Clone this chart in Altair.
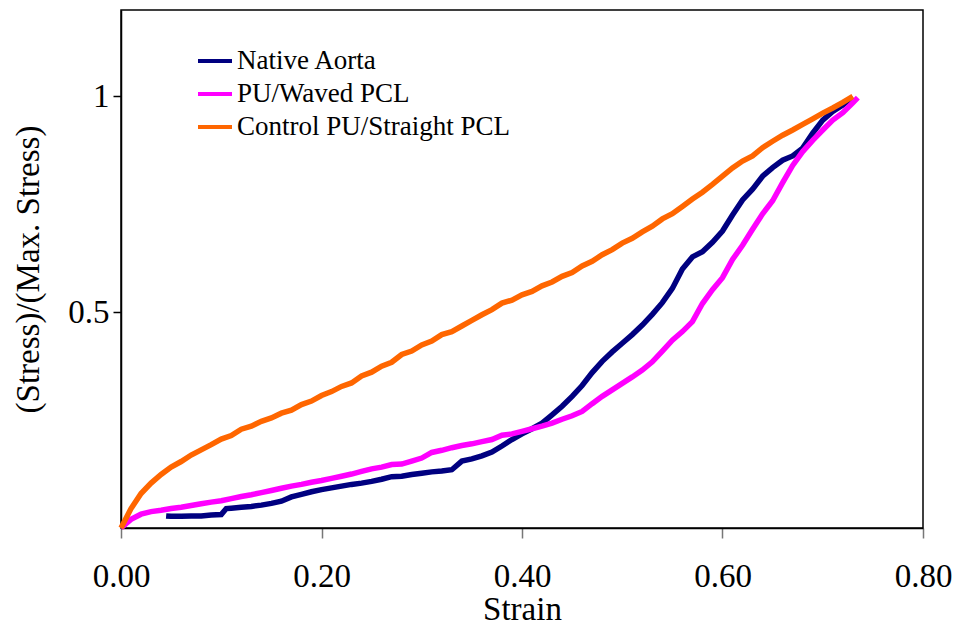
import altair as alt
import pandas as pd

# ---- data ----
control_strain = [0.00, 0.01, 0.02, 0.03, 0.04, 0.05, 0.06, 0.07, 0.08, 0.09,
                  0.10, 0.11, 0.12, 0.13, 0.14, 0.15, 0.16, 0.17, 0.18, 0.19,
                  0.20, 0.21, 0.22, 0.23, 0.24, 0.25, 0.26, 0.27, 0.28, 0.29,
                  0.30, 0.31, 0.32, 0.33, 0.34, 0.35, 0.36, 0.37, 0.38, 0.39,
                  0.40, 0.41, 0.42, 0.43, 0.44, 0.45, 0.46, 0.47, 0.48, 0.49,
                  0.50, 0.51, 0.52, 0.53, 0.54, 0.55, 0.56, 0.57, 0.58, 0.59,
                  0.60, 0.61, 0.62, 0.63, 0.64, 0.65, 0.66, 0.67, 0.68, 0.69,
                  0.70, 0.71, 0.72, 0.73]
control_stress = [0.000, 0.045, 0.080, 0.104, 0.124, 0.141, 0.154, 0.169, 0.181, 0.193,
                  0.206, 0.214, 0.229, 0.236, 0.247, 0.255, 0.266, 0.273, 0.286, 0.294,
                  0.307, 0.316, 0.328, 0.336, 0.352, 0.361, 0.375, 0.384, 0.402, 0.410,
                  0.424, 0.433, 0.448, 0.455, 0.468, 0.481, 0.494, 0.506, 0.521, 0.528,
                  0.540, 0.548, 0.561, 0.570, 0.583, 0.592, 0.607, 0.618, 0.633, 0.645,
                  0.660, 0.671, 0.686, 0.699, 0.716, 0.728, 0.745, 0.762, 0.778, 0.796,
                  0.815, 0.834, 0.850, 0.862, 0.881, 0.896, 0.910, 0.922, 0.935, 0.948,
                  0.961, 0.973, 0.986, 1.000]

waved_strain = [0.00, 0.01, 0.02, 0.03, 0.04, 0.05, 0.06, 0.07, 0.08, 0.09,
                0.10, 0.11, 0.12, 0.13, 0.14, 0.15, 0.16, 0.17, 0.18, 0.19,
                0.20, 0.21, 0.22, 0.23, 0.24, 0.25, 0.26, 0.27, 0.28, 0.29,
                0.30, 0.31, 0.32, 0.33, 0.34, 0.35, 0.36, 0.37, 0.38, 0.39,
                0.40, 0.41, 0.42, 0.43, 0.44, 0.45, 0.46, 0.47, 0.48, 0.49,
                0.50, 0.51, 0.52, 0.53, 0.54, 0.55, 0.56, 0.57, 0.58, 0.59,
                0.60, 0.61, 0.62, 0.63, 0.64, 0.65, 0.66, 0.67, 0.68, 0.69,
                0.70, 0.71, 0.72, 0.73, 0.735]
waved_stress = [0.000, 0.020, 0.032, 0.038, 0.041, 0.045, 0.048, 0.052, 0.056, 0.060,
                0.063, 0.068, 0.073, 0.077, 0.082, 0.087, 0.092, 0.097, 0.101, 0.106,
                0.110, 0.115, 0.120, 0.125, 0.131, 0.137, 0.141, 0.147, 0.148, 0.155,
                0.162, 0.175, 0.180, 0.186, 0.191, 0.195, 0.200, 0.205, 0.215, 0.218,
                0.224, 0.230, 0.236, 0.243, 0.252, 0.260, 0.270, 0.288, 0.305, 0.320,
                0.335, 0.350, 0.366, 0.385, 0.410, 0.435, 0.455, 0.478, 0.520, 0.552,
                0.580, 0.622, 0.655, 0.692, 0.728, 0.758, 0.800, 0.840, 0.872, 0.898,
                0.922, 0.945, 0.962, 0.985, 0.997]

native_strain = [0.045, 0.05, 0.06, 0.07, 0.08, 0.09, 0.10, 0.105, 0.11, 0.12,
                 0.13, 0.14, 0.15, 0.16, 0.17, 0.18, 0.19, 0.20, 0.21, 0.22,
                 0.23, 0.24, 0.25, 0.26, 0.27, 0.28, 0.29, 0.30, 0.31, 0.32,
                 0.33, 0.34, 0.35, 0.36, 0.37, 0.38, 0.39, 0.40, 0.41, 0.42,
                 0.43, 0.44, 0.45, 0.46, 0.47, 0.48, 0.49, 0.50, 0.51, 0.52,
                 0.53, 0.54, 0.55, 0.56, 0.57, 0.58, 0.59, 0.60, 0.61, 0.62,
                 0.63, 0.64, 0.65, 0.66, 0.67, 0.68, 0.69, 0.70, 0.71, 0.72,
                 0.73]
native_stress = [0.028, 0.027, 0.027, 0.028, 0.028, 0.030, 0.031, 0.045, 0.046, 0.048,
                 0.050, 0.053, 0.057, 0.062, 0.072, 0.078, 0.084, 0.089, 0.093, 0.097,
                 0.101, 0.104, 0.108, 0.113, 0.119, 0.120, 0.124, 0.127, 0.130, 0.132,
                 0.135, 0.155, 0.160, 0.167, 0.176, 0.190, 0.205, 0.218, 0.230, 0.243,
                 0.262, 0.282, 0.305, 0.330, 0.360, 0.386, 0.408, 0.428, 0.448, 0.470,
                 0.495, 0.522, 0.555, 0.600, 0.628, 0.640, 0.662, 0.688, 0.725, 0.760,
                 0.785, 0.815, 0.835, 0.852, 0.862, 0.880, 0.915, 0.945, 0.965, 0.980,
                 0.998]

series_names = ["Native Aorta", "PU/Waved PCL", "Control PU/Straight PCL"]
series_colors = ["#000080", "#FF00FF", "#FF6600"]
x_ticks = [0.0, 0.2, 0.4, 0.6, 0.8]
y_ticks = [0.5, 1.0]

rows = []
for name, xs, ys in [(series_names[0], native_strain, native_stress),
                     (series_names[1], waved_strain, waved_stress),
                     (series_names[2], control_strain, control_stress)]:
    for i, (a, b) in enumerate(zip(xs, ys)):
        rows.append({"series": name, "strain": a, "stress": b, "idx": i})
df = pd.DataFrame(rows)

FONT = "Liberation Serif"

chart = alt.Chart(df).mark_line(strokeWidth=5.5).encode(
    x=alt.X("strain:Q",
            scale=alt.Scale(domain=[0, 0.8], nice=False, zero=False),
            axis=alt.Axis(values=x_ticks, format=".2f", title="Strain",
                          tickSize=10, tickColor="#777777", labelPadding=22,
                          titlePadding=0, grid=False, labelFlush=False)),
    y=alt.Y("stress:Q",
            scale=alt.Scale(domain=[0, 1.2], nice=False),
            axis=alt.Axis(values=y_ticks, format="~g",
                          title="(Stress)/(Max.  Stress)",
                          tickSize=8, labelPadding=4, titlePadding=22,
                          grid=False)),
    color=alt.Color("series:N",
                    scale=alt.Scale(domain=series_names, range=series_colors),
                    legend=alt.Legend(title=None, orient="none",
                                      legendX=75, legendY=32,
                                      symbolType="stroke", symbolSize=1156,
                                      symbolStrokeWidth=4, labelOffset=3,
                                      rowPadding=1, labelFontSize=27,
                                      labelFont=FONT, labelColor="black",
                                      labelLimit=500, padding=0)),
    order=alt.Order("idx:Q"),
).properties(
    width=802, height=518,
    background="white",
    autosize=alt.AutoSizeParams(type="none"),
    padding={"left": 121, "top": 10, "right": 35, "bottom": 101},
).configure_view(
    stroke="black", strokeWidth=1.5
).configure_axis(
    labelFont=FONT, titleFont=FONT, labelFontSize=33, titleFontSize=33,
    titleFontWeight="normal", labelColor="black", titleColor="black",
    domainColor="black", domainWidth=1.5, tickColor="black", tickWidth=1.5
)

chart.save("out.html", embed_options={"renderer": "svg", "actions": False})
